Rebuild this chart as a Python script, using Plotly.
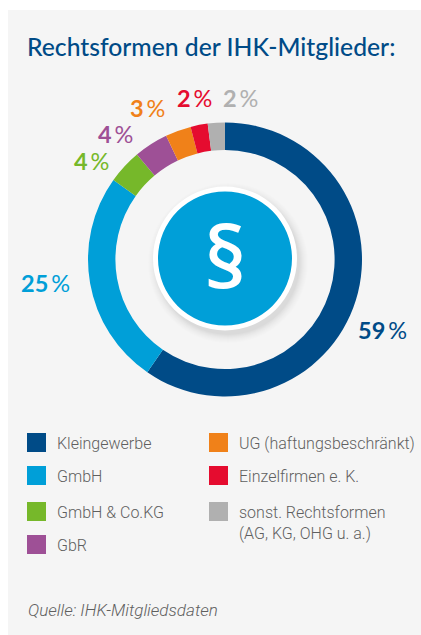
import plotly.graph_objects as go

W, H = 421, 635
categories = ["Kleingewerbe", "GmbH", "GmbH &amp; Co.KG", "GbR",
              "UG (haftungsbeschränkt)", "Einzelfirmen e. K.",
              "sonst. Rechtsformen<br>(AG, KG, OHG u. a.)"]
values = [59, 25, 4, 4, 3, 2, 2]
colors = ["#004b87", "#009fd8", "#76b82a", "#9e5096", "#f08119", "#e50c2f", "#b0b0b0"]
title = "Rechtsformen der IHK-Mitglieder:"
source = "Quelle: IHK-Mitgliedsdaten"

FONT = "Lato"
BODY = "Roboto"
label_xy = [(382.5, 330), (45.5, 283), (91.5, 161), (116, 134), (147.5, 108), (194, 98), (240, 98)]
swatch_xy = [(27, 433), (27, 466), (27, 502), (27, 535), (209, 433), (209, 466), (209, 502)]


def px(x):
    return x / W


def py(y):
    return 1 - y / H


fig = go.Figure(go.Pie(
    values=values, labels=categories, sort=False, direction="clockwise", rotation=0,
    hole=0.8, marker=dict(colors=colors, line=dict(width=0)), textinfo="none",
    showlegend=False, hoverinfo="skip",
    domain=dict(x=[px(88), px(362)], y=[py(396.5), py(122.5)]),
))

shapes = [dict(type="rect", xref="paper", yref="paper", layer="below",
               x0=px(8), x1=1, y0=0, y1=py(10), fillcolor="#f5f5f5", line_width=0)]


def circle(cx, cy, r, color, opacity=1):
    return dict(type="circle", xref="paper", yref="paper", x0=px(cx - r), x1=px(cx + r),
                y0=py(cy + r), y1=py(cy - r), fillcolor=color, opacity=opacity, line_width=0)


for r, a in [(80, 0.006), (79, 0.007), (78, 0.008), (77, 0.009), (76, 0.01),
             (75, 0.012), (74, 0.014), (73, 0.016), (72, 0.018)]:
    shapes.append(circle(228, 263, r, "#000000", a))
shapes.append(circle(225, 258.5, 72, "#ffffff"))
shapes.append(circle(225, 258.5, 67, "#009fd8"))

for (x, y), c in zip(swatch_xy, colors):
    shapes.append(dict(type="rect", xref="paper", yref="paper", x0=px(x), x1=px(x + 19),
                       y0=py(y + 19), y1=py(y), fillcolor=c, line_width=0))

ann = [dict(text=title, x=px(25), y=py(47), xanchor="left", yanchor="middle", showarrow=False,
            xref="paper", yref="paper", font=dict(family=FONT, size=24.7, color="#004b87", weight=500)),
       dict(text="§", x=px(225.5), y=py(254.5), xanchor="center", yanchor="middle", showarrow=False,
            xref="paper", yref="paper", font=dict(family="Open Sans", size=85, color="#ffffff", weight=600)),
       dict(text=source, x=px(26), y=py(610), xanchor="left", yanchor="middle", showarrow=False,
            xref="paper", yref="paper", font=dict(family=BODY, size=17, color="#5f5f5f", style="italic", weight=300))]

for v, c, (x, y) in zip(values, colors, label_xy):
    ann.append(dict(text=f"<b>{v}</b>\u2009%", x=px(x), y=py(y), xanchor="center", yanchor="middle",
                    showarrow=False, xref="paper", yref="paper",
                    font=dict(family=FONT, size=23.5, color=c)))

for name, (x, y) in zip(categories, swatch_xy):
    ann.append(dict(text=name, x=px(x + 28), y=py(y - 1), xanchor="left", yanchor="top", align="left",
                    showarrow=False, xref="paper", yref="paper",
                    font=dict(family=BODY, size=16, color="#5f5f5f", weight=300)))

fig.update_layout(width=W, height=H, margin=dict(l=0, r=0, t=0, b=0), paper_bgcolor="#ffffff",
                  plot_bgcolor="#ffffff", shapes=shapes, annotations=ann)
fig.write_html("out.html", config=dict(displayModeBar=False),
               post_script="document.body.style.margin='0';document.body.style.overflow='hidden';")
